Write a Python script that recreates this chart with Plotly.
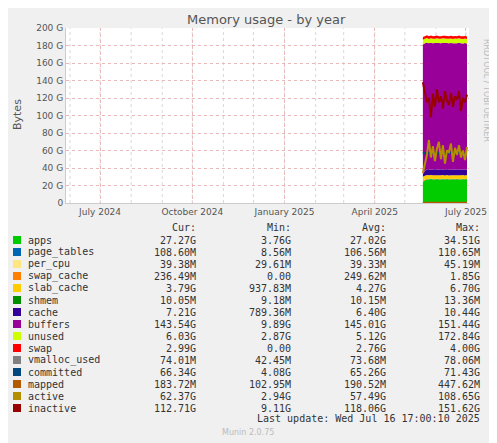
import plotly.graph_objects as go
import pandas as pd

dates = pd.date_range("2025-05-19", "2025-07-03", freq="2D")
G = 1e9
apps        = [24, 26, 27, 27, 27.5, 27, 27, 27.3, 27, 27, 27.2, 27, 27.3, 27, 27, 27.2, 27, 27.3, 27, 27, 27.2, 27, 27.3, 27.27]
page_tables = [0.1]*24
per_cpu     = [0.04]*24
swap_cache  = [1.5, 0.8, 0.3, 0.25, 0.25, 0.25, 0.25, 0.25, 0.25, 0.25, 0.25, 0.25, 0.25, 0.25, 0.25, 0.25, 0.25, 0.25, 0.25, 0.25, 0.25, 0.25, 0.25, 0.24]
slab_cache  = [4.5, 4.2, 4.5, 4.3, 4.0, 4.2, 4.4, 4.1, 4.3, 4.2, 4.5, 4.0, 4.3, 4.1, 4.4, 4.2, 4.3, 4.0, 4.4, 4.2, 4.3, 4.1, 4.2, 3.79]
shmem       = [0.01]*24
cache       = [3.0, 5.5, 6.5, 6.8, 6.2, 6.5, 7.0, 6.3, 6.6, 6.9, 6.1, 6.4, 6.8, 6.5, 6.2, 6.7, 6.4, 6.9, 6.3, 6.6, 6.5, 6.8, 6.4, 7.21]
buffers     = [148, 146, 145, 144, 145, 144.5, 144, 145, 144.5, 144, 145, 145, 144, 144.5, 145, 144, 144.5, 144, 145, 144.5, 144, 144.5, 144, 143.54]
unused      = [5.5, 5.0, 5.2, 5.0, 5.3, 5.1, 5.0, 5.2, 4.9, 5.1, 5.0, 5.3, 5.0, 5.2, 5.1, 5.0, 5.3, 5.0, 5.2, 5.0, 5.1, 5.2, 5.0, 6.03]
swap        = [3.0]*23 + [2.99]
vmalloc     = [0.074]*24
committed   = [58, 57, 56, 57, 58, 57, 57, 56, 57, 58, 57, 57, 56, 57, 58, 57, 56, 57, 58, 57, 57, 56, 57, 66.34]
mapped      = [0.18]*24
active      = [34, 45, 55, 72, 52, 65, 48, 62, 70, 50, 66, 45, 60, 58, 68, 47, 63, 55, 66, 52, 60, 49, 64, 62.37]
inactive    = [138, 128, 115, 120, 98, 125, 110, 130, 115, 122, 108, 128, 117, 112, 126, 110, 122, 118, 128, 105, 120, 115, 124, 112.71]

names = ["apps","page_tables","per_cpu","swap_cache","slab_cache","shmem","cache","buffers","unused","swap",
         "vmalloc_used","committed","mapped","active","inactive"]
colors = ["#00CC00","#0066B3","#FFE680","#FF8000","#FFCC00","#008F00","#330099","#990099","#CCFF00","#FF0000",
          "#808080","#00487D","#B35A00","#B38F00","#990000"]
cur = ["27.27G","108.60M","39.38M","236.49M","3.79G","10.05M","7.21G","143.54G","6.03G","2.99G","74.01M","66.34G","183.72M","62.37G","112.71G"]
mn  = ["3.76G","8.56M","29.61M","0.00","937.83M","9.18M","789.36M","9.89G","2.87G","0.00","42.45M","4.08G","102.95M","2.94G","9.11G"]
avg = ["27.02G","106.56M","39.33M","249.62M","4.27G","10.15M","6.40G","145.01G","5.12G","2.76G","73.68M","65.26G","190.52M","57.49G","118.06G"]
mx  = ["34.51G","110.65M","45.19M","1.85G","6.70G","13.36M","10.44G","151.44G","172.84G","4.00G","78.06M","71.43G","447.62M","108.65G","151.62G"]
yticks = [0,20,40,60,80,100,120,140,160,180,200]
yticklabels = ["0"] + [f"{v} G" for v in yticks[1:]]
month_grid = pd.date_range("2024-06-01", "2025-07-01", freq="MS")

stacked = [apps,page_tables,per_cpu,swap_cache,slab_cache,shmem,cache,buffers,unused,swap]
lines = [vmalloc,committed,mapped,active,inactive]

fig = go.Figure()
for n, c, s in zip(names[:10], colors[:10], stacked):
    fig.add_trace(go.Scatter(x=dates, y=[v*G for v in s], stackgroup="a", mode="none",
                             fillcolor=c, name=n, line=dict(width=0)))
for n, c, s in zip(names[10:], colors[10:], lines):
    fig.add_trace(go.Scatter(x=dates, y=[v*G for v in s], mode="lines",
                             line=dict(color=c, width=2), name=n))

W, H = 497, 443
OFF = 8  # page body margin
L, R, T, B = 66, 469, 28, 203
def px(xp, yp):
    return (xp - L)/(R - L), (B - yp)/(B - T)

font = dict(family="DejaVu Sans Mono", size=10, color="#333")
final = []
def add(x, y, text, xanchor="center", f=font, **kw):
    xx, yy = px(x, y)
    final.append(dict(x=xx, y=yy, xref="paper", yref="paper", text=text, xanchor=xanchor,
                      yanchor="middle", showarrow=False, font=f, **kw))

add(266, 19, "Memory usage - by year", f=dict(size=13, color="#555", family="DejaVu Sans"))
for txt, xr in [("Cur:",198),("Min:",293),("Avg:",388),("Max:",482)]:
    add(xr, 227, txt, "right")
for i in range(15):
    y = 240 + 12*i
    add(26, y, names[i], "left")
    for vals, xr in [(cur,198),(mn,293),(avg,388),(mx,482)]:
        add(xr, y, vals[i], "right")
add(482, 419, "Last update: Wed Jul 16 17:00:10 2025", "right")
add(248, 433, "Munin 2.0.75", f=dict(family="DejaVu Sans", size=8, color="#bbb"))
add(487, 90, "RRDTOOL / TOBI OETIKER", textangle=90, f=dict(family="DejaVu Sans", size=8, color="#bbb"))
add(17, 115, "Bytes", textangle=-90, f=dict(family="DejaVu Sans", size=11, color="#555"))

shapes = []
for i in range(15):
    y = 240 + 12*i
    x0, y0 = px(13, y-4); x1, y1 = px(21, y+4)
    shapes.append(dict(type="rect", xref="paper", yref="paper", x0=x0, x1=x1, y0=y1, y1=y0,
                       fillcolor=colors[i], line=dict(width=0)))
for d in month_grid:
    shapes.append(dict(type="line", xref="x", yref="paper", x0=d, x1=d, y0=0, y1=1,
                       line=dict(color="#d8d8d8", width=1, dash="dot"), layer="below"))

fig.update_layout(
    width=W, height=H,
    margin=dict(l=L-OFF, r=W-(R-OFF), t=T-OFF, b=H-(B-OFF), autoexpand=False),
    paper_bgcolor="#F0F0F0", plot_bgcolor="white", showlegend=False,
    annotations=final, shapes=shapes,
    xaxis=dict(range=["2024-05-28","2025-07-04"], tickvals=["2024-07-01","2024-10-01","2025-01-01","2025-04-01","2025-07-01"],
               ticktext=["July 2024","October 2024","January 2025","April 2025","July 2025"],
               showgrid=True, gridcolor="#eab8b8", griddash="dot", gridwidth=1,
               tickfont=dict(family="DejaVu Sans", size=9, color="#555"), ticks="", showline=True, linecolor="#ccc"),
    yaxis=dict(range=[0, 200*G], tickvals=[v*G for v in yticks], ticktext=yticklabels,
               showgrid=True, gridcolor="#eab8b8", griddash="dot", gridwidth=1, zeroline=False,
               tickfont=dict(family="DejaVu Sans", size=9, color="#555"), ticks="", showline=True, linecolor="#ccc"),
)
fig.write_html("out.html")
